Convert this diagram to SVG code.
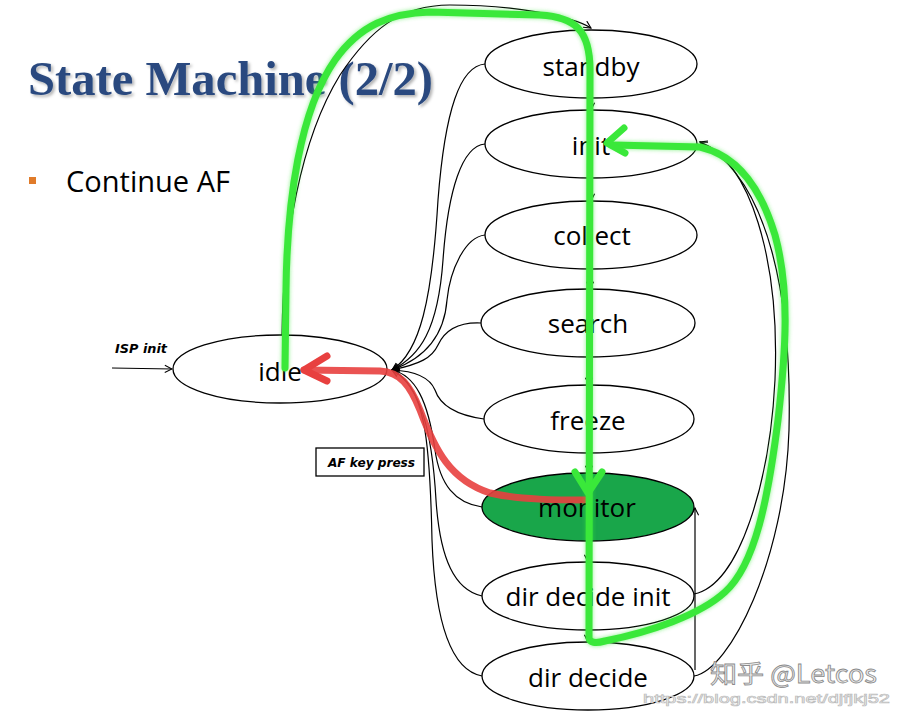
<svg xmlns="http://www.w3.org/2000/svg" width="900" height="712" viewBox="0 0 900 712">
<defs>
<style>
.st{fill:#fff;stroke:#000;stroke-width:1.3}
.lbl{font-family:"Open Sans","DejaVu Sans",sans-serif;font-size:26px;fill:#000;text-anchor:middle}
.c{fill:none;stroke:#000;stroke-width:1.2}
.tag{font-family:"DejaVu Sans",sans-serif;font-size:12px;font-weight:bold;font-style:italic;fill:#000}
.hl{fill:none;stroke-width:7;stroke-linecap:round;stroke-linejoin:round}
</style>
<marker id="ar" viewBox="0 0 10 10" refX="9" refY="5" markerWidth="9" markerHeight="9" markerUnits="userSpaceOnUse" orient="auto">
<path d="M1,1 L9,5 L1,9" fill="none" stroke="#000" stroke-width="1.2"/>
</marker>
<filter id="glow" x="-10%" y="-10%" width="120%" height="120%">
<feGaussianBlur stdDeviation="2"/>
</filter>
<filter id="sh" x="-5%" y="-20%" width="110%" height="140%">
<feDropShadow dx="2" dy="2" stdDeviation="1.5" flood-color="#000" flood-opacity="0.3"/>
</filter>
</defs>
<rect width="900" height="712" fill="#fff"/>
<text x="28" y="95" font-family="'Liberation Serif',serif" font-weight="bold" font-size="48" fill="#2a4a7f" textLength="405" lengthAdjust="spacingAndGlyphs" filter="url(#sh)">State Machine (2/2)</text>
<rect x="29" y="177" width="7" height="7" fill="#e07b2a"/>
<text x="66" y="192" font-family="'Open Sans','DejaVu Sans',sans-serif" font-size="30" fill="#000" textLength="164" lengthAdjust="spacingAndGlyphs">Continue AF</text>

<g id="connectors">
<path class="c" d="M282 336 C283 240 300 140 340 75 C370 30 400 5 450 5 C510 5 570 15 591 28" marker-end="url(#ar)"/>
<path class="c" d="M591 98 L591 110" marker-end="url(#ar)"/>
<path class="c" d="M591 178 L591 201" marker-end="url(#ar)"/>
<path class="c" d="M590 269 L590 289" marker-end="url(#ar)"/>
<path class="c" d="M589 357 L589 385" marker-end="url(#ar)"/>
<path class="c" d="M589 453 L589 473" marker-end="url(#ar)"/>
<path class="c" d="M588 541 L588 562" marker-end="url(#ar)"/>
<path class="c" d="M588 630 L588 642" marker-end="url(#ar)"/>
<path class="c" d="M485 64 C460 66 445 110 438 200 C432 300 420 352 392 370" marker-end="url(#ar)"/>
<path class="c" d="M485 144 C462 146 448 190 443 260 C438 330 420 356 392 370" marker-end="url(#ar)"/>
<path class="c" d="M485 235 C465 237 450 270 447 300 C444 340 420 360 392 370" marker-end="url(#ar)"/>
<path class="c" d="M481 323 C460 322 445 330 438 345 C432 358 420 364 392 370" marker-end="url(#ar)"/>
<path class="c" d="M484 419 C455 415 440 405 435 390 C430 378 415 371 392 370" marker-end="url(#ar)"/>
<path class="c" d="M482 507 C455 503 440 485 435 450 C428 400 415 375 392 370" marker-end="url(#ar)"/>
<path class="c" d="M482 596 C455 590 440 560 436 500 C432 430 420 385 392 370" marker-end="url(#ar)"/>
<path class="c" d="M482 676 C450 670 435 620 432 540 C430 440 425 385 392 370" marker-end="url(#ar)"/>
<path class="c" d="M694 594 C740 585 770 480 775 380 C780 260 750 160 700 142" marker-end="url(#ar)"/>
<path class="c" d="M694 676 C730 670 785 560 789 430 C792 300 770 180 700 142" marker-end="url(#ar)"/>
<path class="c" d="M695 670 L695 508" marker-end="url(#ar)"/>
<path class="c" d="M112 368 L172 369" marker-end="url(#ar)"/>
</g>

<g id="idle"><ellipse class="st" cx="280" cy="369" rx="107" ry="34"/></g>
<g id="standby"><ellipse class="st" cx="591" cy="64" rx="106" ry="34"/></g>
<g id="init"><ellipse class="st" cx="591" cy="144" rx="106" ry="34"/></g>
<g id="collect"><ellipse class="st" cx="591" cy="235" rx="106" ry="34"/></g>
<g id="search"><ellipse class="st" cx="588" cy="323" rx="107" ry="34"/></g>
<g id="freeze"><ellipse class="st" cx="589" cy="419" rx="105" ry="34"/></g>
<g id="monitor"><ellipse cx="588" cy="507" rx="106" ry="34" fill="#19a64a" stroke="#000" stroke-width="1.3"/></g>
<g id="dir-decide-init"><ellipse class="st" cx="588" cy="596" rx="106" ry="34"/></g>
<g id="dir-decide"><ellipse class="st" cx="588" cy="676" rx="106" ry="34"/></g>

<g id="red-path">
<path class="hl" d="M304 370 L380 371 C400 372 410 385 420 410 C435 450 450 480 490 493 C520 500 560 500 585 500" stroke="#e8403f" stroke-opacity="0.9"/>
<path class="hl" d="M327 356 L304 370 L327 381" stroke="#e8403f"/>
</g>

<g id="labels">
<text class="lbl" x="591" y="76">standby</text>
<text class="lbl" x="591" y="155">init</text>
<text class="lbl" x="592" y="245">collect</text>
<text class="lbl" x="588" y="333">search</text>
<text class="lbl" x="588" y="430">freeze</text>
<text class="lbl" x="587" y="517">monitor</text>
<text class="lbl" x="588" y="606">dir decide init</text>
<text class="lbl" x="588" y="687">dir decide</text>
<text class="lbl" x="280" y="381">idle</text>
<text class="tag" x="115" y="353" textLength="52" lengthAdjust="spacingAndGlyphs">ISP init</text>
<rect x="316" y="448" width="108" height="28" fill="#fff" stroke="#000" stroke-width="1.3"/>
<text class="tag" x="328" y="467" textLength="87" lengthAdjust="spacingAndGlyphs">AF key press</text>
</g>

<g id="green-path">
<g filter="url(#glow)" opacity="0.6">
<path class="hl" stroke-width="10" stroke="#3ae83a" d="M285 368 L286 290 C287 200 300 110 335 60 C360 25 390 13 430 12 L540 15 C575 17 590 30 590 70 L589 638 Q590 645 605 641 C650 632 700 615 725 592 C755 565 768 500 778 420 C786 350 790 290 775 235 C760 185 735 155 700 147 L612 145"/>
</g>
<path class="hl" stroke="#3ae83a" d="M285 368 L286 290 C287 200 300 110 335 60 C360 25 390 13 430 12 L540 15 C575 17 590 30 590 70 L589 638 Q590 645 605 641 C650 632 700 615 725 592 C755 565 768 500 778 420 C786 350 790 290 775 235 C760 185 735 155 700 147 L612 145"/>
<path class="hl" stroke="#3ae83a" d="M575 472 L588 493 L602 472"/>
<path class="hl" stroke="#3ae83a" d="M624 128 L607 143 L625 153"/>
</g>

<g id="watermark">
<text x="710" y="683" font-family="'Noto Sans CJK SC',sans-serif" font-size="25" fill="#eeeeee" stroke="#8a8a8a" stroke-width="0.8" textLength="167" lengthAdjust="spacingAndGlyphs">知乎 @Letcos</text>
<text x="643" y="703" font-family="'Liberation Sans',sans-serif" font-size="13" fill="#ffffff" stroke="#bdbdbd" stroke-width="0.7" textLength="247" lengthAdjust="spacingAndGlyphs">https://blog.csdn.net/djfjkj52</text>
</g>
</svg>
